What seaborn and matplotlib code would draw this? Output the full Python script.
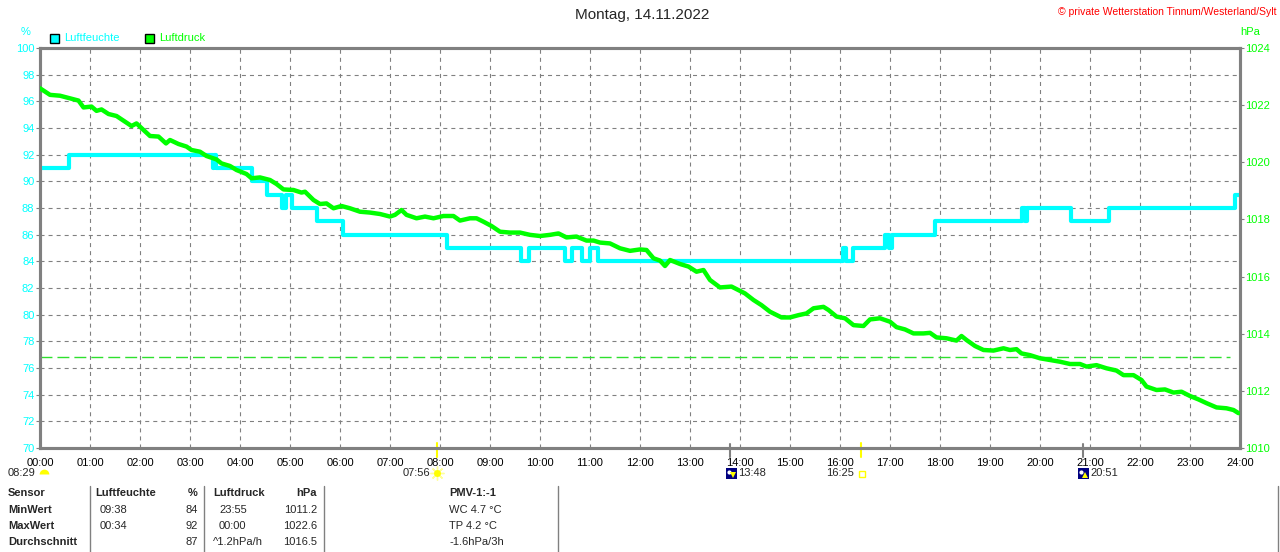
import pandas as pd
import seaborn as sns
import matplotlib.pyplot as plt
from matplotlib.patches import Rectangle
from matplotlib.lines import Line2D

# Luftfeuchte in % (Treppenkurve, Beginn jeder Stufe in Stunden)
hum_hours = [0.0, 0.57, 3.45, 3.48, 3.52, 4.23, 4.53, 4.83, 4.92, 5.03, 5.54, 6.05, 8.13,
             9.61, 9.77, 10.50, 10.63, 10.83, 11.00, 11.16, 16.05, 16.12, 16.25, 16.89,
             16.97, 17.03, 17.90, 19.65, 19.70, 19.74, 20.61, 21.37, 23.90, 24.0]
hum_values = [91, 92, 91, 92, 91, 90, 89, 88, 89, 88, 87, 86, 85,
              84, 85, 84, 85, 84, 85, 84, 85, 84, 85, 86,
              85, 86, 87, 88, 87, 88, 87, 88, 89, 89]

# Luftdruck in hPa
p_hours = [0.0, 0.2, 0.4, 0.6, 0.77, 0.87, 1.03, 1.13, 1.23, 1.37, 1.53, 1.70, 1.83, 1.93,
           2.07, 2.20, 2.37, 2.52, 2.60, 2.77, 2.93, 3.03, 3.20, 3.33, 3.53, 3.63, 3.80, 3.93,
           4.13, 4.23, 4.40, 4.60, 4.73, 4.87, 5.07, 5.23, 5.30, 5.47, 5.60, 5.73, 5.87, 6.03,
           6.20, 6.40, 6.60, 6.80, 7.00, 7.10, 7.23, 7.33, 7.53, 7.70, 7.87, 8.07, 8.27, 8.40,
           8.60, 8.73, 8.87, 9.03, 9.20, 9.40, 9.60, 9.80, 10.00, 10.20, 10.37, 10.53, 10.73,
           10.93, 11.07, 11.20, 11.40, 11.60, 11.80, 12.00, 12.13, 12.27, 12.40, 12.50, 12.60,
           12.80, 12.97, 13.13, 13.27, 13.40, 13.60, 13.83, 14.00, 14.10, 14.27, 14.43, 14.60,
           14.83, 15.00, 15.17, 15.33, 15.47, 15.67, 15.77, 15.93, 16.10, 16.27, 16.47, 16.60,
           16.80, 17.00, 17.13, 17.30, 17.47, 17.67, 17.80, 17.93, 18.13, 18.33, 18.43, 18.53,
           18.70, 18.87, 19.07, 19.27, 19.40, 19.53, 19.63, 19.80, 20.00, 20.20, 20.40, 20.60,
           20.80, 20.93, 21.13, 21.33, 21.53, 21.67, 21.87, 22.03, 22.13, 22.33, 22.50, 22.67,
           22.83, 23.00, 23.17, 23.33, 23.53, 23.73, 23.87, 23.97]
p_values = [1022.59, 1022.36, 1022.33, 1022.24, 1022.16, 1021.92, 1021.95, 1021.80, 1021.85,
            1021.69, 1021.62, 1021.42, 1021.27, 1021.36, 1021.13, 1020.92, 1020.90, 1020.66,
            1020.78, 1020.64, 1020.55, 1020.43, 1020.37, 1020.22, 1020.10, 1019.96, 1019.87,
            1019.73, 1019.59, 1019.44, 1019.47, 1019.38, 1019.24, 1019.05, 1019.03, 1018.94,
            1018.97, 1018.68, 1018.54, 1018.56, 1018.39, 1018.47, 1018.39, 1018.27, 1018.24,
            1018.19, 1018.10, 1018.16, 1018.33, 1018.16, 1018.04, 1018.10, 1018.04, 1018.12,
            1018.12, 1017.96, 1018.04, 1018.04, 1017.92, 1017.77, 1017.57, 1017.54, 1017.54,
            1017.46, 1017.42, 1017.46, 1017.51, 1017.37, 1017.40, 1017.26, 1017.26, 1017.19,
            1017.16, 1016.99, 1016.90, 1016.95, 1016.93, 1016.64, 1016.56, 1016.37, 1016.58,
            1016.44, 1016.35, 1016.17, 1016.23, 1015.88, 1015.62, 1015.65, 1015.50, 1015.41,
            1015.18, 1015.00, 1014.77, 1014.57, 1014.57, 1014.65, 1014.71, 1014.89, 1014.94,
            1014.83, 1014.60, 1014.54, 1014.30, 1014.27, 1014.50, 1014.54, 1014.42, 1014.23,
            1014.15, 1014.01, 1014.01, 1014.03, 1013.87, 1013.84, 1013.76, 1013.92, 1013.78,
            1013.57, 1013.43, 1013.41, 1013.49, 1013.43, 1013.46, 1013.31, 1013.25, 1013.14,
            1013.08, 1013.02, 1012.94, 1012.94, 1012.85, 1012.90, 1012.79, 1012.71, 1012.55,
            1012.55, 1012.38, 1012.15, 1012.03, 1012.05, 1011.94, 1011.97, 1011.82, 1011.70,
            1011.57, 1011.42, 1011.39, 1011.33, 1011.22]
ref_hpa = 1013.2

hour_labels = [f"{h:02d}:00" for h in range(25)]

# Sonne / Mond
sun_rise, sun_set = 7 + 56 / 60, 16 + 25 / 60
moon_set, moon_rise = 13 + 48 / 60, 20 + 51 / 60

# Tabelle unten
row_labels = ["Sensor", "MinWert", "MaxWert", "Durchschnitt"]
hum_times = ["Luftfeuchte", "09:38", "00:34", ""]
hum_stats = ["%", "84", "92", "87"]
p_times = ["Luftdruck", "23:55", "00:00", "^1.2hPa/h"]
p_stats = ["hPa", "1011.2", "1022.6", "1016.5"]
pmv_col = ["PMV-1:-1", "WC 4.7 °C", "TP 4.2 °C", "-1.6hPa/3h"]

CYAN = "#00ffff"
GREEN = "#00ff00"
GRAY = "#808080"

sns.set_style("white")
plt.rcParams["font.family"] = ["Liberation Sans", "DejaVu Sans"]
plt.rcParams["lines.scale_dashes"] = False

W, H = 1280, 552
fig = plt.figure(figsize=(W / 100, H / 100), dpi=100)


def fx(x):
    return x / W


def fy(y):
    return 1 - y / H


ax = fig.add_axes([fx(40), fy(448), 1200 / W, 400 / H])
ax2 = ax.twinx()

df_h = pd.DataFrame({"t": hum_hours, "v": hum_values})
df_p = pd.DataFrame({"t": p_hours, "v": p_values})

sns.lineplot(data=df_h, x="t", y="v", ax=ax, color=CYAN, lw=3, drawstyle="steps-post",
             estimator=None, sort=False, zorder=3)
sns.lineplot(data=df_p, x="t", y="v", ax=ax2, color=GREEN, lw=3.2,
             estimator=None, sort=False, zorder=3)
ax2.axhline(ref_hpa, xmin=0, xmax=0.992, color="#2ee02e", lw=1, dashes=(8.6, 3.6))

ax.set_xlim(0, 24)
ax.set_ylim(70, 100)
ax2.set_ylim(1010, 1024)
ax.set_xticks(range(25))
ax.set_xticklabels(hour_labels)
ax.set_yticks(range(70, 101, 2))
ax2.set_yticks(range(1010, 1025, 2))
for a in (ax, ax2):
    a.set_xlabel("")
    a.set_ylabel("")
    for s in a.spines.values():
        s.set_color(GRAY)
        s.set_linewidth(2.2)

ax.grid(True, color=GRAY, lw=0.8, dashes=(2.9, 2.9))
ax2.grid(False)
ax.set_axisbelow(True)
ax.tick_params(axis="x", length=0, pad=7, labelsize=8, labelcolor="black")
ax.tick_params(axis="y", length=3, width=0.8, color=GRAY, pad=1, labelsize=8, labelcolor=CYAN)
ax2.tick_params(axis="y", length=3, width=0.8, color=GRAY, pad=1, labelsize=8, labelcolor=GREEN)

# Sonnenauf-/untergang und Mond Markierungen an der Zeitachse
xt = ax.get_xaxis_transform()
for t in (sun_rise, sun_set):
    ax.plot([t, t], [0.0125, -0.0225], transform=xt, color="#ffff00", lw=1.5, clip_on=False)
for t in (moon_set, moon_rise):
    ax.plot([t, t], [0.01, -0.0225], transform=xt, color=GRAY, lw=1.5, clip_on=False)

# Texte oben
fig.text(fx(642), fy(15), "Montag, 14.11.2022", ha="center", va="center", fontsize=11)
fig.text(fx(1277), fy(12), "© private Wetterstation Tinnum/Westerland/Sylt", ha="right",
         va="center", fontsize=7.5, color="red")
fig.text(fx(26), fy(32), "%", ha="center", va="center", fontsize=8, color=CYAN)
fig.text(fx(1250), fy(32), "hPa", ha="center", va="center", fontsize=8, color=GREEN)

# Legende
for x0, col, lab in ((50, CYAN, "Luftfeuchte"), (145, GREEN, "Luftdruck")):
    fig.add_artist(Rectangle((fx(x0), fy(43)), 9 / W, 9 / H, transform=fig.transFigure,
                             facecolor=col, edgecolor="black", lw=1))
    fig.text(fx(x0 + 14), fy(38), lab, ha="left", va="center", fontsize=8, color=col)

# Zeiten unter der Achse
ty = fy(473)
fig.text(fx(8), ty, "08:29", ha="left", va="center", fontsize=8)
fig.add_artist(Line2D([fx(44)], [fy(474)], marker="o", ms=7, fillstyle="top", mfc="#ffff00",
                      mfcalt="none", mew=0, transform=fig.transFigure))
fig.text(fx(430), ty, "07:56", ha="right", va="center", fontsize=8)
fig.add_artist(Line2D([fx(437)], [fy(473)], marker=(8, 2, 0), ms=10, color="#ffff99", mew=1,
                      transform=fig.transFigure))
fig.add_artist(Line2D([fx(437)], [fy(473)], marker="o", ms=5, mfc="#ffff00", mew=0,
                      transform=fig.transFigure))
fig.text(fx(854), ty, "16:25", ha="right", va="center", fontsize=8)
fig.add_artist(Line2D([fx(862)], [fy(474)], marker="s", ms=4, mfc="none", mec="#ffff00", mew=1,
                      transform=fig.transFigure))
for x0, mk, lab in ((726, "v", "13:48"), (1078, "^", "20:51")):
    fig.add_artist(Rectangle((fx(x0), fy(479)), 11 / W, 11 / H, transform=fig.transFigure,
                             facecolor="#000080", edgecolor="none"))
    fig.add_artist(Line2D([fx(x0 + 3)], [fy(472)], marker="o", ms=3, mfc="white", mew=0,
                          transform=fig.transFigure))
    fig.add_artist(Line2D([fx(x0 + 7)], [fy(475)], marker=mk, ms=4, mfc="#ffff00", mew=0,
                          transform=fig.transFigure))
    fig.text(fx(x0 + 12), ty, lab, ha="left", va="center", fontsize=8)

# Tabelle
for xs in (90, 204, 324, 558, 1278):
    fig.add_artist(Line2D([fx(xs), fx(xs)], [fy(486), fy(552)], color=GRAY, lw=1,
                          transform=fig.transFigure))
row_y = [493, 510, 526, 542]
for i, y in enumerate(row_y):
    w = "bold" if i == 0 else "normal"
    fig.text(fx(8), fy(y), row_labels[i], ha="left", va="center", fontsize=8, weight="bold")
    fig.text(fx(95 if i == 0 else 100), fy(y), hum_times[i], ha="left", va="center",
             fontsize=8, weight=w)
    fig.text(fx(198), fy(y), hum_stats[i], ha="right", va="center", fontsize=8, weight=w)
    fig.text(fx(213 if i in (0, 3) else 219), fy(y), p_times[i], ha="left", va="center",
             fontsize=8, weight=w)
    fig.text(fx(317), fy(y), p_stats[i], ha="right", va="center", fontsize=8, weight=w)
    fig.text(fx(449), fy(y), pmv_col[i], ha="left", va="center", fontsize=8, weight=w)

fig.savefig("out.png", dpi=100)
